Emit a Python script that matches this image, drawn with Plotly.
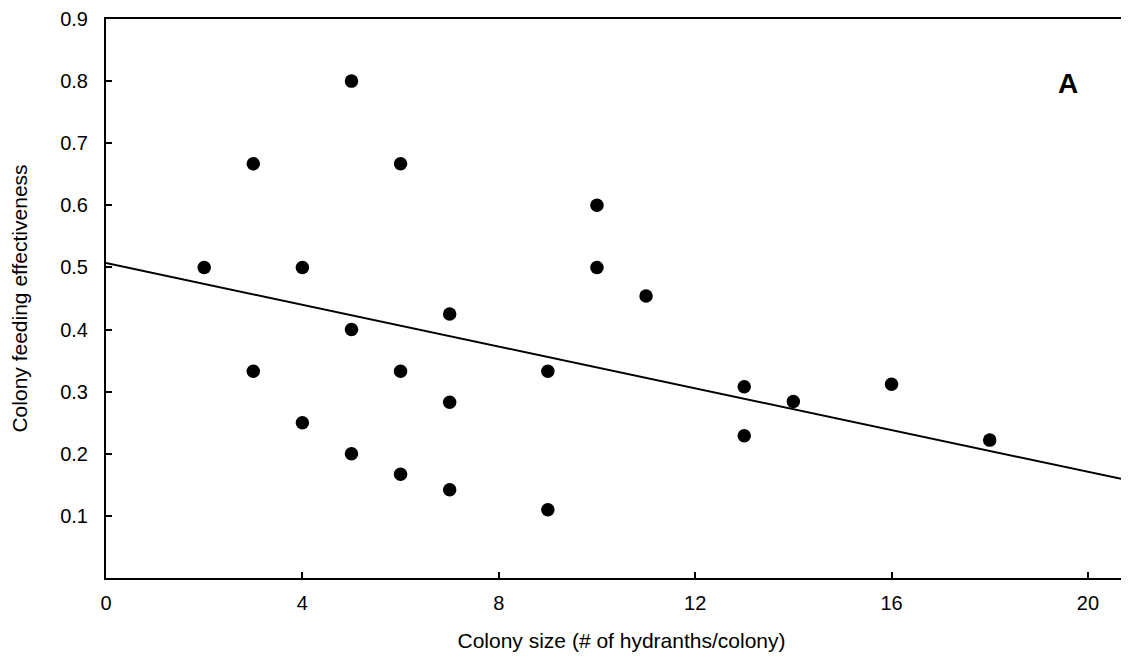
import plotly.graph_objects as go

# Data
colony_size = [2, 3, 3, 4, 4, 5, 5, 5, 6, 6, 6, 7, 7, 7, 9, 9, 10, 10, 11, 13, 13, 14, 16, 18]
feeding_effectiveness = [0.500, 0.667, 0.333, 0.500, 0.250, 0.800, 0.400, 0.200,
                         0.667, 0.333, 0.167, 0.425, 0.283, 0.142, 0.333, 0.110,
                         0.600, 0.500, 0.454, 0.308, 0.229, 0.284, 0.312, 0.222]

# Regression line (intercept, slope)
fit_intercept = 0.507
fit_slope = -0.0168
fit_x = [0, 21]
fit_y = [fit_intercept + fit_slope * x for x in fit_x]

x_ticks = [0, 4, 8, 12, 16, 20]
y_ticks = [0.1, 0.2, 0.3, 0.4, 0.5, 0.6, 0.7, 0.8, 0.9]

FONT = "Liberation Sans, Arial, Helvetica, sans-serif"

fig = go.Figure()
fig.add_trace(go.Scatter(x=fit_x, y=fit_y, mode="lines",
                         line=dict(color="black", width=2), showlegend=False,
                         hoverinfo="skip"))
fig.add_trace(go.Scatter(x=colony_size, y=feeding_effectiveness, mode="markers",
                         marker=dict(color="black", size=13.5), showlegend=False))

fig.update_layout(
    width=1129, height=662,
    margin=dict(l=98, r=0, t=8, b=92),
    paper_bgcolor="white", plot_bgcolor="white",
    font=dict(family=FONT, color="black", size=20),
    annotations=[dict(text="<b>A</b>", x=19.6, y=0.796, xref="x", yref="y",
                      showarrow=False, font=dict(size=28, family=FONT, color="black"))],
)
fig.update_xaxes(
    range=[0, 21], tickvals=x_ticks, ticktext=[str(v) for v in x_ticks],
    showgrid=False, zeroline=False, showline=True, linecolor="black", linewidth=2,
    mirror=True, ticks="inside", ticklen=6, tickwidth=2, tickcolor="black",
    tickfont=dict(size=20), ticklabelstandoff=6, ticklabeloverflow="allow",
    title=dict(text="Colony size (# of hydranths/colony)", font=dict(size=21), standoff=20),
)
fig.update_yaxes(
    range=[0, 0.9], tickvals=y_ticks, ticktext=[f"{v:.1f}" for v in y_ticks],
    showgrid=False, zeroline=False, showline=True, linecolor="black", linewidth=2,
    ticks="inside", ticklen=6, tickwidth=2, tickcolor="black",
    tickfont=dict(size=20), ticklabelstandoff=12, ticklabeloverflow="allow",
    title=dict(text="Colony feeding effectiveness", font=dict(size=21), standoff=28),
)

fig.write_html("out.html")
